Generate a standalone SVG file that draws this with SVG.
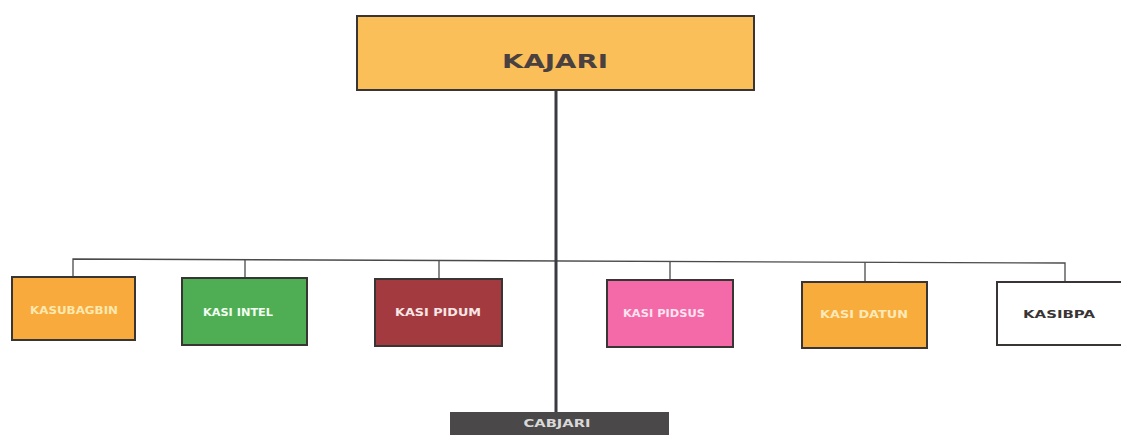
<svg xmlns="http://www.w3.org/2000/svg" width="1121" height="435" viewBox="0 0 1121 435">
<style>
.box{stroke:#3a3535;stroke-width:2}
.lbl{font-family:"DejaVu Sans","Liberation Sans",sans-serif;font-weight:bold;font-size:10px;text-anchor:middle;dominant-baseline:central}
.ln{stroke:#4a4a4a;stroke-width:1.3;fill:none}
</style>
<rect width="1121" height="435" fill="#ffffff"/>
<g id="connectors">
<polyline class="ln" points="73,277 73,259 1065,263 1065,282"/>
<line class="ln" x1="245" y1="259.7" x2="245" y2="278"/>
<line class="ln" x1="439" y1="260.5" x2="439" y2="279"/>
<line class="ln" x1="670" y1="261.5" x2="670" y2="280"/>
<line class="ln" x1="865" y1="262.3" x2="865" y2="282"/>
<line x1="556" y1="90" x2="556" y2="412" stroke="#3a3a42" stroke-width="3"/>
</g>
<g id="kajari">
<rect class="box" x="357" y="16" width="397" height="74" fill="#fbbf5a"/>
<text x="555" y="61" class="lbl" style="font-size:20px" fill="#4a4040" textLength="106" lengthAdjust="spacingAndGlyphs">KAJARI</text>
</g>
<g id="kasubagbin">
<rect class="box" x="12" y="277" width="123" height="63" fill="#f9aa3c"/>
<text x="74" y="310" class="lbl" fill="#fde9b0" textLength="88" lengthAdjust="spacingAndGlyphs">KASUBAGBIN</text>
</g>
<g id="kasi-intel">
<rect class="box" x="182" y="278" width="125" height="67" fill="#4fae54"/>
<text x="238" y="312" class="lbl" fill="#f2fff2" textLength="70" lengthAdjust="spacingAndGlyphs">KASI INTEL</text>
</g>
<g id="kasi-pidum">
<rect class="box" x="375" y="279" width="127" height="67" fill="#a23a40"/>
<text x="438" y="312" class="lbl" fill="#fbe6e6" textLength="86" lengthAdjust="spacingAndGlyphs">KASI PIDUM</text>
</g>
<g id="kasi-pidsus">
<rect class="box" x="607" y="280" width="126" height="67" fill="#f46aa8"/>
<text x="664" y="313" class="lbl" fill="#fde3ef" textLength="82" lengthAdjust="spacingAndGlyphs">KASI PIDSUS</text>
</g>
<g id="kasi-datun">
<rect class="box" x="802" y="282" width="125" height="66" fill="#f8ac3c"/>
<text x="864" y="314" class="lbl" fill="#fde9b8" textLength="88" lengthAdjust="spacingAndGlyphs">KASI DATUN</text>
</g>
<g id="kasibpa">
<rect class="box" x="997" y="282" width="130" height="63" fill="#ffffff"/>
<text x="1059" y="314" class="lbl" fill="#3a3535" textLength="72" lengthAdjust="spacingAndGlyphs">KASIBPA</text>
</g>
<g id="cabjari">
<rect x="450" y="412" width="219" height="30" fill="#4a4848"/>
<text x="557" y="423" class="lbl" fill="#d8d8d8" style="font-size:11px" textLength="67" lengthAdjust="spacingAndGlyphs">CABJARI</text>
</g>
</svg>
